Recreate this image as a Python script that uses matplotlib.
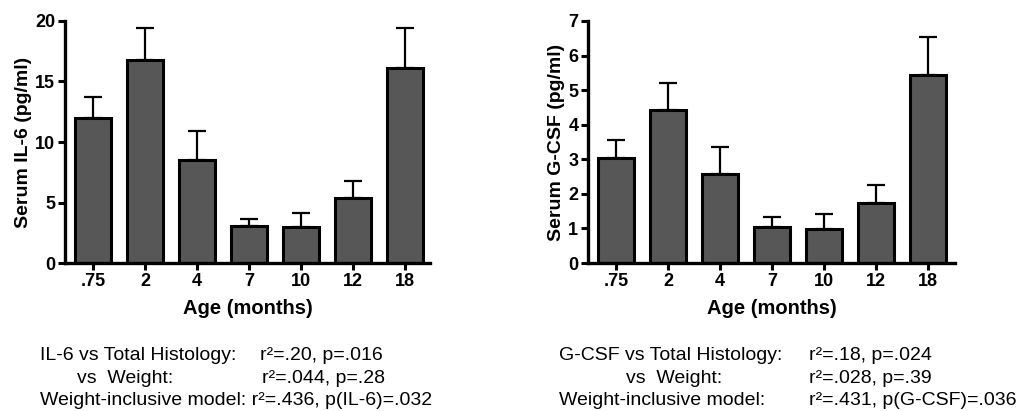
import numpy as np
import matplotlib.pyplot as plt

plt.rcParams['font.family'] = ['Liberation Sans', 'DejaVu Sans']

# Data
ages = ['.75', '2', '4', '7', '10', '12', '18']
il6_mean = [12.0, 16.8, 8.5, 3.1, 3.0, 5.4, 16.1]
il6_err = [1.7, 2.6, 2.4, 0.5, 1.1, 1.4, 3.3]
gcsf_mean = [3.05, 4.43, 2.58, 1.03, 0.98, 1.73, 5.43]
gcsf_err = [0.50, 0.79, 0.78, 0.29, 0.44, 0.54, 1.12]

il6_stats = ["IL-6 vs Total Histology:", "r\u00b2=.20, p=.016",
             "vs  Weight:", "r\u00b2=.044, p=.28",
             "Weight-inclusive model: r\u00b2=.436, p(IL-6)=.032"]
gcsf_stats = ["G-CSF vs Total Histology:", "r\u00b2=.18, p=.024",
              "vs  Weight:", "r\u00b2=.028, p=.39",
              "Weight-inclusive model:", "r\u00b2=.431, p(G-CSF)=.036"]

fig = plt.figure(figsize=(10.18, 4.11), dpi=100)
ax1 = fig.add_axes([0.0639, 0.360, 0.3585, 0.589])
ax2 = fig.add_axes([0.5776, 0.360, 0.3605, 0.589])


def draw(ax, means, errs, ylim, yticks, ylabel, xlim):
    x = np.arange(len(ages))
    ax.bar(x, means, width=0.69, color='#575757', edgecolor='black',
           linewidth=2.2, zorder=2)
    ax.errorbar(x, means, yerr=[np.zeros(len(errs)), errs], fmt='none',
                ecolor='black', elinewidth=1.6, capsize=6.5, capthick=1.6,
                zorder=1)
    ax.set_xlim(*xlim)
    ax.set_ylim(*ylim)
    ax.set_xticks(x)
    ax.set_xticklabels(ages)
    ax.set_yticks(yticks)
    for s in ['top', 'right']:
        ax.spines[s].set_visible(False)
    for s in ['left', 'bottom']:
        ax.spines[s].set_linewidth(2.4)
    ax.tick_params(width=2.2, length=5, labelsize=13, pad=2)
    for lab in ax.get_xticklabels() + ax.get_yticklabels():
        lab.set_fontweight('bold')
    ax.set_xlabel('Age (months)', fontsize=14.5, fontweight='bold', labelpad=7)
    ax.set_ylabel(ylabel, fontsize=14, fontweight='bold', labelpad=2)


draw(ax1, il6_mean, il6_err, (0, 20), [0, 5, 10, 15, 20],
     'Serum IL-6 (pg/ml)', (-0.54, 6.48))
draw(ax2, gcsf_mean, gcsf_err, (0, 7), list(range(8)),
     'Serum G-CSF (pg/ml)', (-0.54, 6.52))

fs = 14
ys = [1 - 355 / 411, 1 - 378 / 411, 1 - 400 / 411]
# left block
fig.text(40 / 1018, ys[0], il6_stats[0], fontsize=fs, va='center')
fig.text(260 / 1018, ys[0], il6_stats[1], fontsize=fs, va='center')
fig.text(77 / 1018, ys[1], il6_stats[2], fontsize=fs, va='center')
fig.text(262 / 1018, ys[1], il6_stats[3], fontsize=fs, va='center')
fig.text(40 / 1018, ys[2], il6_stats[4], fontsize=fs, va='center')
# right block
fig.text(559 / 1018, ys[0], gcsf_stats[0], fontsize=fs, va='center')
fig.text(809 / 1018, ys[0], gcsf_stats[1], fontsize=fs, va='center')
fig.text(626 / 1018, ys[1], gcsf_stats[2], fontsize=fs, va='center')
fig.text(809 / 1018, ys[1], gcsf_stats[3], fontsize=fs, va='center')
fig.text(559 / 1018, ys[2], gcsf_stats[4], fontsize=fs, va='center')
fig.text(809 / 1018, ys[2], gcsf_stats[5], fontsize=fs, va='center')

fig.savefig('out.png', dpi=100)
